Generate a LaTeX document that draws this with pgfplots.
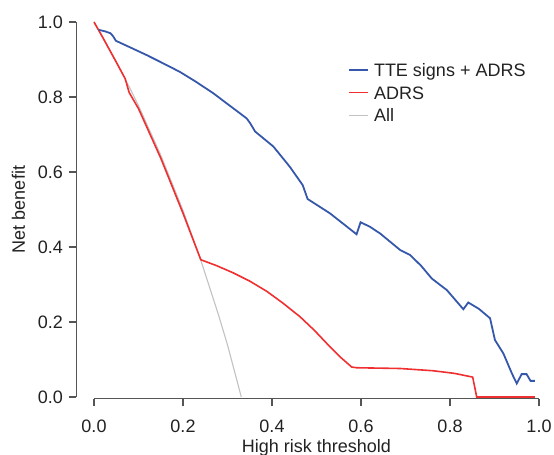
\documentclass[border=0pt]{standalone}
\usepackage{pgfplots}
\pgfplotsset{compat=1.18}
\usepackage{fontspec}
\setmainfont{Liberation Sans}
\definecolor{tteblue}{HTML}{3658AA}
\definecolor{adrsred}{HTML}{F03030}
\definecolor{allgrey}{HTML}{C2C2C2}
\definecolor{axisgrey}{HTML}{555555}
\definecolor{textgrey}{HTML}{222222}

\begin{document}
\begin{tikzpicture}[font=\fontsize{18bp}{21.6bp}\selectfont]
\useasboundingbox (0,0) rectangle (554bp,455bp);
\begin{axis}[
  at={(76.2bp,56.5bp)}, anchor=south west,
  scale only axis, width=462.8bp, height=376.5bp,
  xmin=-0.04, xmax=1.0, ymin=-0.004, ymax=1.0,
  clip=false,
  axis x line*=bottom, axis y line*=left,
  axis line style={draw=none},
  xtick={0,0.2,0.4,0.6,0.8,1}, ytick={0,0.2,0.4,0.6,0.8,1},
  minor tick num=0,
  tick align=outside, major tick length=7.7bp,
  tick style={axisgrey, line width=1.3bp},
  /pgf/number format/assume math mode=true,
  xticklabel style={/pgf/number format/.cd, fixed, fixed zerofill, precision=1,
    /tikz/.cd, yshift=-10.5bp},
  yticklabel style={/pgf/number format/.cd, fixed, fixed zerofill, precision=1,
    /tikz/.cd, xshift=-2bp},
  every tick label/.append style={font=\fontsize{18bp}{21.6bp}\selectfont, text=textgrey},
  xlabel={High risk threshold}, ylabel={Net benefit},
  xlabel style={at={(axis cs:0.5,-0.004)}, anchor=base, yshift=-53.5bp, text=textgrey},
  ylabel style={at={(axis description cs:-0.1247,0.502)}, anchor=center, text=textgrey},
  reverse legend,
  legend cell align=left,
  legend style={at={(0.5873,0.8903)}, anchor=north west, draw=none, fill=none,
    inner sep=0pt, row sep=9.1bp, text=textgrey,
    nodes={inner sep=0pt, text height=13.4bp, text depth=0pt},
    /tikz/every odd column/.append style={column sep=5bp}},
  legend image code/.code={\draw[#1] (0bp,0bp) -- (19bp,0bp);},
]
% All
\addplot[allgrey, line width=1.1bp] coordinates {
  (0,1.0) (0.02,0.959) (0.05,0.894) (0.08,0.825) (0.10,0.777) (0.15,0.645)
  (0.20,0.4975) (0.24,0.365) (0.28,0.218) (0.30,0.139) (0.331,0.0)};
\addlegendentry{All}
% ADRS
\addplot[adrsred, line width=1.6bp] coordinates {
  (0,1.0) (0.02,0.958) (0.05,0.893) (0.070,0.849) (0.079,0.812) (0.10,0.769)
  (0.15,0.637) (0.20,0.490) (0.240,0.366) (0.276,0.350) (0.313,0.331)
  (0.350,0.309) (0.388,0.282) (0.425,0.250) (0.463,0.214) (0.495,0.178)
  (0.523,0.143) (0.553,0.107) (0.579,0.080) (0.590,0.078) (0.688,0.076)
  (0.762,0.070) (0.810,0.063) (0.851,0.053) (0.860,0.0) (0.991,0.0)};
\addlegendentry{ADRS}
% TTE signs + ADRS
\addplot[tteblue, line width=1.8bp] coordinates {
  (0.011,0.979) (0.025,0.975) (0.037,0.970) (0.043,0.962) (0.049,0.950)
  (0.080,0.933) (0.118,0.912) (0.155,0.890) (0.193,0.867) (0.230,0.840)
  (0.268,0.810) (0.305,0.777) (0.343,0.743) (0.351,0.730) (0.362,0.708)
  (0.403,0.668) (0.440,0.614) (0.469,0.565) (0.480,0.528) (0.530,0.490)
  (0.590,0.434) (0.599,0.466) (0.620,0.454) (0.643,0.436) (0.688,0.392)
  (0.710,0.379) (0.735,0.350) (0.759,0.316) (0.793,0.285) (0.830,0.234)
  (0.841,0.252) (0.865,0.235) (0.890,0.210) (0.901,0.152) (0.920,0.116)
  (0.939,0.063) (0.950,0.036) (0.961,0.061) (0.972,0.061) (0.981,0.043)
  (0.991,0.043)};
\addlegendentry{TTE signs + ADRS}
% axis lines, R style
\draw[axisgrey, line width=1.3bp] (axis cs:0,-0.004) -- (axis cs:1,-0.004);
\draw[axisgrey, line width=1.3bp] (axis cs:-0.04,0) -- (axis cs:-0.04,1);
\end{axis}
\end{tikzpicture}
\end{document}
